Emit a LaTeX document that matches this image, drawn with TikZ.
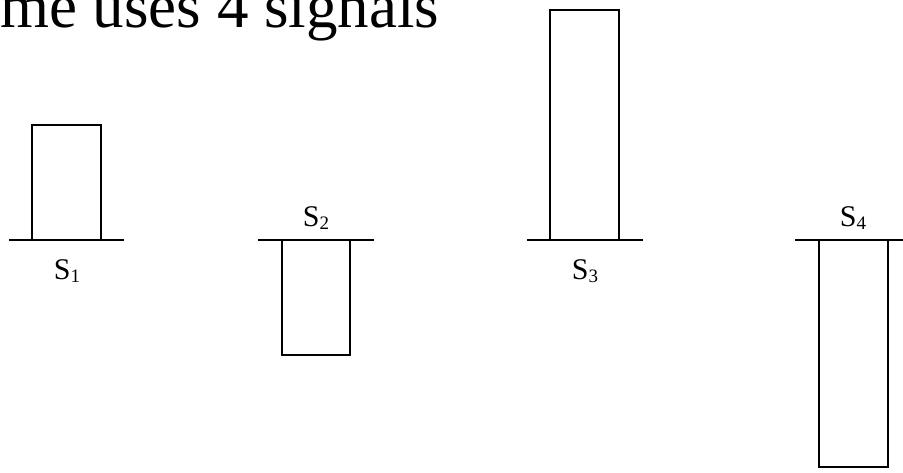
\documentclass[tikz,border=0pt]{standalone}
\usepackage{fontspec}
\setmainfont{Liberation Serif}
\usetikzlibrary{positioning}

% signal name with a small lowered index
\newcommand{\sname}[1]{S\raisebox{-0.12em}{\fontsize{19}{21}\selectfont #1}}

\begin{document}
\begin{tikzpicture}[x=1pt, y=-1pt,
    wave/.style={line width=1.6pt, line join=miter},
    axis/.style={line width=1.9pt},
    lbl/.style={font=\fontsize{30}{34}\selectfont, inner sep=0pt, anchor=base},
    head/.style={font=\fontsize{63}{70}\selectfont, inner sep=0pt, anchor=base west},
  ]
  \useasboundingbox (0,0) rectangle (903,472);

  % Left ends of the four zero lines; all share one level.
  % Pulses: S1 and S3 go up, S2 and S4 go down.
  \def\xA{9}     % S1
  \def\xB{258}   % S2
  \def\xC{527}   % S3
  \def\xD{795}   % S4
  \def\yBase{240}

  \node[head] (title) at (0,27) {me uses 4 signals};

  % ── S1: short positive pulse ─────────────────────────────
  \draw[axis] (\xA,\yBase) -- ++(115,0);
  \draw[wave] (\xA+23,\yBase) -- ++(0,-115) -- ++(69,0) -- ++(0,115);
  \node[lbl] (s1) at (\xA+58,279) {\sname{1}};

  % ── S2: short negative pulse ─────────────────────────────
  \draw[axis] (\xB,\yBase) -- ++(116,0);
  \draw[wave] (\xB+24,\yBase) -- ++(0,115) -- ++(68,0) -- ++(0,-115);
  \node[lbl] (s2) at (\xB+58,226) {\sname{2}};

  % ── S3: tall positive pulse ──────────────────────────────
  \draw[axis] (\xC,\yBase) -- ++(116,0);
  \draw[wave] (\xC+23,\yBase) -- ++(0,-230) -- ++(69,0) -- ++(0,230);
  \node[lbl] (s3) at (\xC+58,279) {\sname{3}};

  % ── S4: tall negative pulse ──────────────────────────────
  \draw[axis] (\xD,\yBase) -- ++(108,0);
  \draw[wave] (\xD+24,\yBase) -- ++(0,227) -- ++(69,0) -- ++(0,-227);
  \node[lbl] (s4) at (\xD+58,226) {\sname{4}};

\end{tikzpicture}
\end{document}
